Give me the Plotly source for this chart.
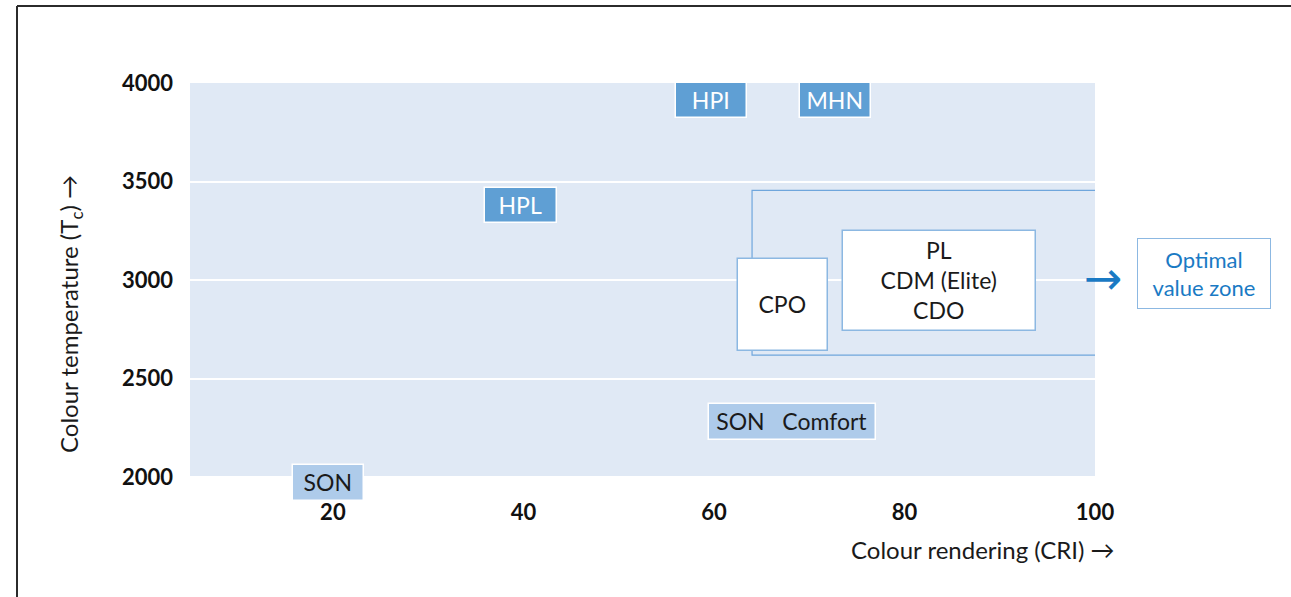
"""
Colour temperature vs colour rendering of lamp families, with the
optimal value zone outlined on the right.
"""
import plotly.graph_objects as go

# lamp families: CRI range and colour temperature range (K)
LAMPS = ["HPI", "MHN", "HPL", "SON\u00a0\u00a0\u00a0Comfort", "SON", "CPO", "PL<br>CDM (Elite)<br>CDO"]
CRI_LO = [56.0, 69.0, 36.0, 59.5, 15.8, 62.5, 73.5]
CRI_HI = [63.5, 76.5, 43.5, 77.0, 23.3, 72.0, 93.8]
TC_LO = [3820, 3820, 3290, 2190, 1880, 2640, 2740]
TC_HI = [4000, 4000, 3470, 2370, 2065, 3105, 3250]
KIND = ["dark", "dark", "dark", "light", "light", "white", "white"]

# optimal value zone
ZONE_CRI = [64.0, 100.0]
ZONE_TC = [2620, 3455]

# shaded chart field and axis ranges
FIELD_TC = [2000, 4000]
X_RANGE = [5, 100]
Y_RANGE = [1875, 4000]
X_TICKS = [20, 40, 60, 80, 100]
Y_TICKS = [2000, 2500, 3000, 3500, 4000]

FONT = "Lato, 'Noto Sans', sans-serif"
BLUE_TXT = "#1a7ac4"
FILL = {"dark": "#5f9fd4", "light": "#aecbea", "white": "#ffffff"}
EDGE = {"dark": "#ffffff", "light": "#ffffff", "white": "#8cb8e2"}
TXT = {"dark": "#ffffff", "light": "#1a1a1a", "white": "#1a1a1a"}

fig = go.Figure()
fig.add_trace(
    go.Bar(
        x=[(a + b) / 2 for a, b in zip(CRI_LO, CRI_HI)],
        width=[b - a for a, b in zip(CRI_LO, CRI_HI)],
        base=TC_LO,
        y=[b - a for a, b in zip(TC_LO, TC_HI)],
        text=LAMPS,
        textposition="inside",
        insidetextanchor="middle",
        textangle=0,
        constraintext="none",
        textfont=dict(family=FONT, size=23, color=[TXT[k] for k in KIND]),
        marker=dict(
            color=[FILL[k] for k in KIND],
            line=dict(color=[EDGE[k] for k in KIND], width=1.5),
        ),
        hoverinfo="skip",
        showlegend=False,
    )
)

# page frame (left and top rule), in paper units of the plot area
W, H = 1291, 597
L, R, T, B = 190, 196, 83, 95
PW, PH = W - L - R, H - T - B
def px(xp):
    return (xp - L) / PW
def py(yp):
    return (H - B - yp) / PH

shapes = [
    # light blue chart field
    dict(type="rect", xref="x domain", yref="y", layer="below",
         x0=0, x1=1, y0=FIELD_TC[0], y1=FIELD_TC[1],
         fillcolor="#e0e9f5", line=dict(width=0)),
    # optimal value zone outline (open at the right)
    dict(type="path", xref="x", yref="y", layer="between",
         path=(f"M {ZONE_CRI[1]},{ZONE_TC[1]} L {ZONE_CRI[0]},{ZONE_TC[1]} "
               f"L {ZONE_CRI[0]},{ZONE_TC[0]} L {ZONE_CRI[1]},{ZONE_TC[0]}"),
         line=dict(color="#6fa6dc", width=1.2)),
    dict(type="line", xref="paper", yref="paper",
         x0=px(17), x1=px(17), y0=py(6), y1=py(605),
         line=dict(color="#2b2b2b", width=2)),
    dict(type="line", xref="paper", yref="paper",
         x0=px(17), x1=px(1300), y0=py(6), y1=py(6),
         line=dict(color="#2b2b2b", width=2)),
]

annotations = [
    dict(xref="paper", yref="paper", x=px(70), y=py(314),
         xanchor="center", yanchor="middle",
         text="Colour temperature (T<sub>c</sub>) →", textangle=-90,
         showarrow=False, font=dict(family=FONT, size=24, color="#1a1a1a")),
    dict(xref="paper", yref="paper", x=px(1117), y=py(549),
         xanchor="right", yanchor="middle",
         text="Colour rendering (CRI) →",
         showarrow=False, font=dict(family=FONT, size=24, color="#1a1a1a")),
    dict(xref="paper", yref="paper", x=px(1103), y=py(278),
         xanchor="center", yanchor="middle",
         text="→", showarrow=False,
         font=dict(family="DejaVu Sans", size=46, color=BLUE_TXT)),
    dict(xref="paper", yref="paper", x=px(1204), y=py(273.5),
         xanchor="center", yanchor="middle",
         text="Optimal<br>value zone", showarrow=False,
         width=120, height=57, borderpad=6, borderwidth=1,
         bordercolor="#8cb8e2", bgcolor="#ffffff",
         font=dict(family=FONT, size=22, color=BLUE_TXT)),
]

fig.update_layout(
    width=W, height=H,
    margin=dict(l=L, r=R, t=T, b=B),
    paper_bgcolor="#ffffff",
    plot_bgcolor="#ffffff",
    bargap=0,
    shapes=shapes,
    annotations=annotations,
    showlegend=False,
    xaxis=dict(
        range=X_RANGE, tickvals=X_TICKS, showgrid=False, zeroline=False,
        showline=False, ticks="", ticklabelstandoff=-5, fixedrange=True,
        tickfont=dict(family=FONT, size=22, color="#111111", weight="bold"),
    ),
    yaxis=dict(
        range=Y_RANGE, tickvals=Y_TICKS, showgrid=True,
        gridcolor="#ffffff", gridwidth=1.5, zeroline=False,
        showline=False, ticks="", ticklabelstandoff=16, fixedrange=True,
        tickfont=dict(family=FONT, size=22, color="#111111", weight="bold"),
    ),
)

fig.write_html(
    "out.html",
    config={"displayModeBar": False},
    post_script="document.body.style.margin='0';",
)
